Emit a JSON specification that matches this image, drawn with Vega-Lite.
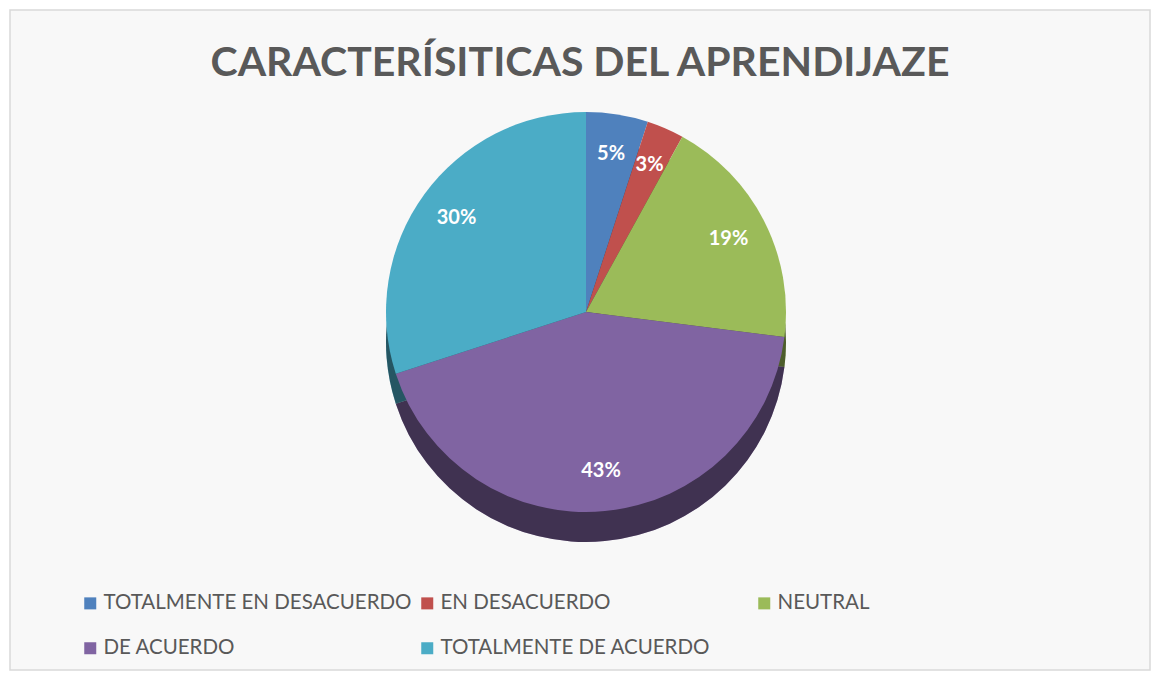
{
  "$schema": "https://vega.github.io/schema/vega-lite/v6.json",
  "width": 1140,
  "height": 660,
  "autosize": {"type": "none"},
  "padding": {"left": 10, "top": 10, "right": 4, "bottom": 4},
  "background": "#ffffff",
  "view": {"stroke": "#d9d9d9", "fill": "#f8f8f8", "strokeWidth": 1.5},
  "title": {
    "text": "CARACTERÍSITICAS DEL APRENDIJAZE",
    "font": "Lato",
    "fontSize": 41,
    "fontWeight": "bold",
    "color": "#595959",
    "anchor": "middle",
    "offset": -75
  },
  "data": {
    "values": [
      {"categoria": "TOTALMENTE EN DESACUERDO", "valor": 0.05, "orden": 1},
      {"categoria": "EN DESACUERDO", "valor": 0.03, "orden": 2},
      {"categoria": "NEUTRAL", "valor": 0.19, "orden": 3},
      {"categoria": "DE ACUERDO", "valor": 0.43, "orden": 4},
      {"categoria": "TOTALMENTE DE ACUERDO", "valor": 0.30, "orden": 5}
    ]
  },
  "encoding": {
    "theta": {"field": "valor", "type": "quantitative", "stack": true},
    "order": {"field": "orden", "type": "quantitative"},
    "color": {
      "field": "categoria",
      "type": "nominal",
      "scale": {
        "domain": ["TOTALMENTE EN DESACUERDO", "EN DESACUERDO", "NEUTRAL", "DE ACUERDO", "TOTALMENTE DE ACUERDO"],
        "range": ["#4f81bd", "#c0504d", "#9bbb59", "#8064a2", "#4bacc6"]
      },
      "legend": {
        "orient": "none",
        "legendX": 70,
        "legendY": 583,
        "direction": "horizontal",
        "columns": 3,
        "gridAlign": "all",
        "columnPadding": 5,
        "rowPadding": 24,
        "symbolType": "square",
        "symbolSize": 144,
        "symbolStrokeWidth": 0,
        "labelFont": "Lato",
        "labelFontSize": 20.5,
        "labelColor": "#595959",
        "labelLimit": 400,
        "labelOffset": 3,
        "title": null,
        "padding": 0
      }
    }
  },
  "layer": [
    {"mark": {"type": "arc", "radius": 200, "xOffset": 6, "yOffset": 2}},
    {"mark": {"type": "arc", "radius": 200, "xOffset": 6, "yOffset": 2, "opacity": 0.5}, "encoding": {"color": {"value": "#000000"}}},
    {"mark": {"type": "arc", "radius": 200, "xOffset": 6, "yOffset": -28}},
    {
      "mark": {"type": "text", "radius": 160, "xOffset": 6, "yOffset": -28, "font": "Lato", "fontSize": 20, "fontWeight": "bold"},
      "encoding": {
        "text": {"field": "valor", "type": "quantitative", "format": ".0%"},
        "color": {"value": "#ffffff"}
      }
    }
  ]
}
